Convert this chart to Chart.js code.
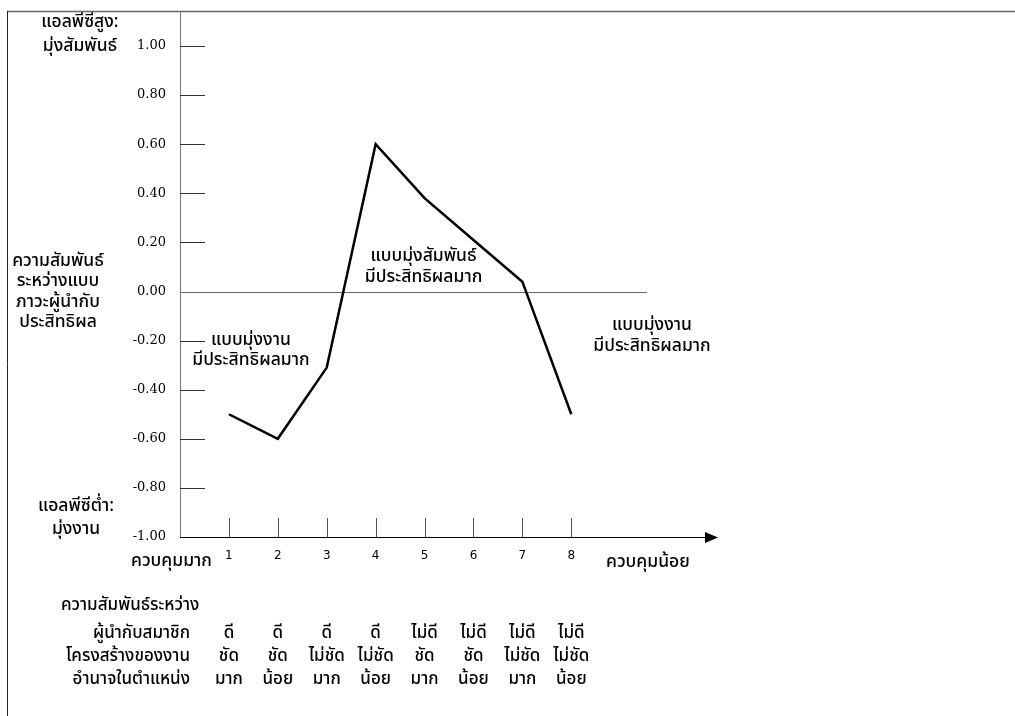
<!DOCTYPE html>
<html><head><meta charset="utf-8">
<script src="https://cdn.jsdelivr.net/npm/chart.js@4"></script>
<style>html,body{margin:0;padding:0;background:#fff}#wrap{width:1015px;height:716px;position:relative}canvas{display:block}</style>
</head><body><div id="wrap"><canvas id="c" width="1015" height="716"></canvas></div>
<script>
// ---- data ----
const categories = [1, 2, 3, 4, 5, 6, 7, 8];
const values = [-0.50, -0.60, -0.31, 0.60, 0.38, 0.21, 0.04, -0.50];
const yTicks = [1.00, 0.80, 0.60, 0.40, 0.20, 0.00, -0.20, -0.40, -0.60, -0.80, -1.00];
const rowTitles = ['ผู้นำกับสมาชิก', 'โครงสร้างของงาน', 'อำนาจในตำแหน่ง'];
const rowLeader = ['ดี', 'ดี', 'ดี', 'ดี', 'ไม่ดี', 'ไม่ดี', 'ไม่ดี', 'ไม่ดี'];
const rowStructure = ['ชัด', 'ชัด', 'ไม่ชัด', 'ไม่ชัด', 'ชัด', 'ชัด', 'ไม่ชัด', 'ไม่ชัด'];
const rowPower = ['มาก', 'น้อย', 'มาก', 'น้อย', 'มาก', 'น้อย', 'มาก', 'น้อย'];
const tableHeading = 'ความสัมพันธ์ระหว่าง';
const yTopLabel = ['แอลพีซีสูง:', 'มุ่งสัมพันธ์'];
const yMidLabel = ['ความสัมพันธ์', 'ระหว่างแบบ', 'ภาวะผู้นำกับ', 'ประสิทธิผล'];
const yBottomLabel = ['แอลพีซีต่ำ:', 'มุ่งงาน'];
const xLeftLabel = 'ควบคุมมาก';
const xRightLabel = 'ควบคุมน้อย';
const annoTask = ['แบบมุ่งงาน', 'มีประสิทธิผลมาก'];
const annoRel = ['แบบมุ่งสัมพันธ์', 'มีประสิทธิผลมาก'];

// ---- styles / layout ----
const THAI = "Tahoma, 'Noto Sans Thai', 'Noto Sans Thai UI', Loma, Garuda, 'Noto Sans', sans-serif";
const thaiFont = '500 17.5px ' + THAI;
const thaiSmall = '500 17px ' + THAI;

const overlay = {
  id: 'overlay',
  beforeDatasetsDraw(chart) {
    const ctx = chart.ctx, xs = chart.scales.x, ys = chart.scales.y;
    const y0 = ys.getPixelForValue(0), yb = ys.getPixelForValue(-1);
    const xa = xs.getPixelForValue(0);
    ctx.save();
    // frame
    ctx.strokeStyle = '#666'; ctx.lineWidth = 1.5;
    ctx.beginPath(); ctx.moveTo(7, 11.5); ctx.lineTo(1015, 11.5); ctx.stroke();
    ctx.strokeStyle = '#222'; ctx.lineWidth = 1;
    ctx.beginPath(); ctx.moveTo(7.5, 11); ctx.lineTo(7.5, 716); ctx.stroke();
    // y axis line
    ctx.strokeStyle = '#777'; ctx.lineWidth = 1;
    ctx.beginPath(); ctx.moveTo(Math.round(xa) + 0.5, 11); ctx.lineTo(Math.round(xa) + 0.5, yb); ctx.stroke();
    // y tick marks
    ctx.strokeStyle = '#333';
    yTicks.forEach(v => {
      if (v === 0 || v === -1) return;
      const y = Math.round(ys.getPixelForValue(v)) + 0.5;
      ctx.beginPath(); ctx.moveTo(xa, y); ctx.lineTo(xa + 25, y); ctx.stroke();
    });
    // zero line
    ctx.strokeStyle = '#666';
    ctx.beginPath(); ctx.moveTo(xa, Math.round(y0) + 0.5); ctx.lineTo(xs.getPixelForValue(9.55), Math.round(y0) + 0.5); ctx.stroke();
    // x tick marks
    ctx.strokeStyle = '#555';
    categories.forEach(c => {
      const x = Math.round(xs.getPixelForValue(c)) + 0.5;
      ctx.beginPath(); ctx.moveTo(x, yb - 19); ctx.lineTo(x, yb); ctx.stroke();
    });
    // x axis with arrow
    const xEnd = xs.getPixelForValue(11);
    ctx.strokeStyle = '#000';
    ctx.beginPath(); ctx.moveTo(xa, Math.round(yb) + 0.5); ctx.lineTo(xEnd - 10, Math.round(yb) + 0.5); ctx.stroke();
    ctx.fillStyle = '#000';
    ctx.beginPath(); ctx.moveTo(xEnd, yb + 0.5); ctx.lineTo(xEnd - 13, yb - 5); ctx.lineTo(xEnd - 13, yb + 6); ctx.closePath(); ctx.fill();
    ctx.restore();
  },
  afterDraw(chart) {
    const ctx = chart.ctx, xs = chart.scales.x, ys = chart.scales.y;
    ctx.save();
    ctx.fillStyle = '#000';
    ctx.textBaseline = 'middle';
    ctx.textAlign = 'center';
    const lines = (arr, cx, ys0, dy) => arr.forEach((t, i) => ctx.fillText(t, cx, ys0 + i * dy));
    ctx.font = thaiFont;
    lines(yTopLabel, 80, 23, 24);
    lines(yMidLabel, 58, 262, 20.5);
    lines(yBottomLabel, 76, 507, 23);
    // annotations in data coordinates
    lines(annoTask, xs.getPixelForValue(1.45), ys.getPixelForValue(-0.205), 20);
    lines(annoRel, xs.getPixelForValue(4.98), ys.getPixelForValue(0.14), 21);
    lines(annoTask, xs.getPixelForValue(9.65), ys.getPixelForValue(-0.142), 21);
    // x end labels
    ctx.textAlign = 'left';
    ctx.fillText(xLeftLabel, 131, 562);
    ctx.fillText(xRightLabel, 606, 563);
    ctx.font = thaiSmall;
    ctx.fillText(tableHeading, 61, 607);
    // table
    ctx.textAlign = 'right';
    rowTitles.forEach((t, i) => ctx.fillText(t, 190, 635 + i * 23));
    ctx.textAlign = 'center';
    [rowLeader, rowStructure, rowPower].forEach((row, i) => {
      row.forEach((t, j) => ctx.fillText(t, xs.getPixelForValue(categories[j]), 635 + i * 23));
    });
    ctx.restore();
  }
};

new Chart(document.getElementById('c'), {
  type: 'line',
  data: {
    datasets: [{
      data: categories.map((c, i) => ({ x: c, y: values[i] })),
      borderColor: '#000', borderWidth: 2.5, pointRadius: 0, tension: 0, fill: false, clip: false
    }]
  },
  options: {
    responsive: false, animation: false, devicePixelRatio: 1,
    layout: { padding: { top: 46, right: 297, left: 0, bottom: 0 } },
    plugins: { legend: { display: false }, tooltip: { enabled: false } },
    scales: {
      x: {
        type: 'linear', min: 0, max: 11, position: 'bottom',
        afterFit: s => { s.height = 179; },
        afterBuildTicks: s => { s.ticks = categories.map(v => ({ value: v })); },
        ticks: { autoSkip: false, maxRotation: 0, padding: 12, color: '#000', font: { family: "'DejaVu Sans'", size: 12 } },
        grid: { display: false, drawTicks: false }, border: { display: false }
      },
      y: {
        type: 'linear', min: -1, max: 1, position: 'left',
        afterFit: s => { s.width = 180; },
        afterBuildTicks: s => { s.ticks = yTicks.map(v => ({ value: v })); },
        ticks: { padding: 14, color: '#000', font: { family: "'DejaVu Serif'", size: 13 }, callback: v => v.toFixed(2) },
        grid: { display: false, drawTicks: false }, border: { display: false }
      }
    }
  },
  plugins: [overlay]
});
</script>
</body></html>
